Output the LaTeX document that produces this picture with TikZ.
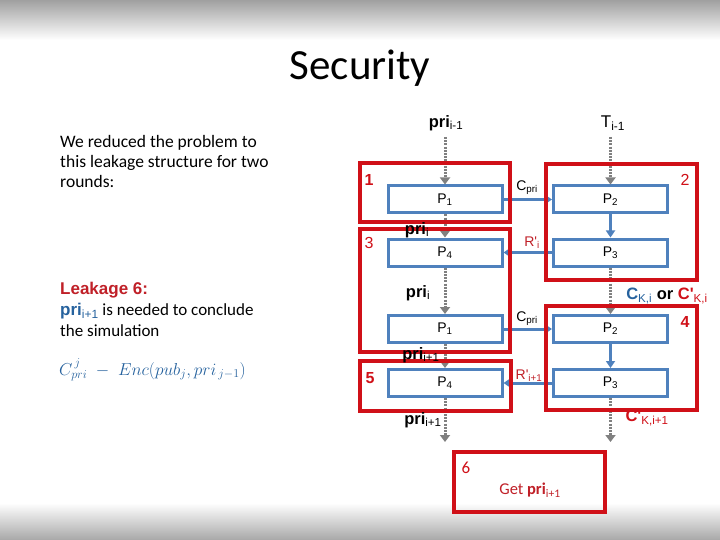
\documentclass[tikz,border=0pt]{standalone}
\usepackage{fontspec}
\setmainfont{Carlito}
\newfontfamily\arialf{Liberation Sans}
\usetikzlibrary{arrows.meta}
\definecolor{boxred}{RGB}{208,16,24}
\definecolor{txtred}{RGB}{192,32,40}
\definecolor{pblue}{RGB}{79,129,189}
\definecolor{tblue}{RGB}{38,98,158}
\definecolor{dgray}{RGB}{128,128,128}
\newcommand{\msub}[1]{\textsubscript{\mdseries #1}}
\tikzset{
  pbox/.style={draw=pblue, line width=3pt, minimum width=114pt, minimum height=27pt, inner sep=0pt, font=\arialf\fontsize{14}{16}\selectfont},
  rbox/.style={draw=boxred, line width=3.5pt, inner sep=0pt},
  barrow/.style={draw=pblue, line width=3pt, -{Triangle[length=7pt,width=9pt]}},
  garrow/.style={draw=dgray, line width=3pt, dash pattern=on 2pt off 1.2pt, -{Triangle[length=7pt,width=10pt]}},
  lbl/.style={font=\arialf\bfseries\fontsize{16.5}{18}\selectfont, inner sep=0pt},
  num/.style={font=\arialf\fontsize{16}{18}\selectfont, text=boxred, inner sep=0pt},
  small/.style={font=\arialf\fontsize{14}{16}\selectfont, inner sep=0pt}
}
\begin{document}
\begin{tikzpicture}[x=1pt,y=-1pt]
\useasboundingbox (0,0) rectangle (720,540);
\fill[white] (0,0) rectangle (720,540);
\shade[top color={rgb,255:red,160;green,160;blue,160}, bottom color=white] (0,0) rectangle (720,40);
\shade[top color=white, bottom color={rgb,255:red,168;green,168;blue,168}] (0,503) rectangle (720,540);

% title
\node[font=\fontsize{43}{48}\selectfont, inner sep=0pt] (title) at (360,68) {Security};

% left text
\node[anchor=north west, align=left, inner sep=0pt, font=\fontsize{17.5}{20.3}\selectfont] (intro) at (60,135)
  {We reduced the problem to\\ this leakage structure for two\\ rounds:};
\node[anchor=north west, align=left, inner sep=0pt, font=\fontsize{17}{21}\selectfont] (leak) at (60,282)
  {{\arialf\bfseries\color{txtred}Leakage 6:}\\
   {\arialf\bfseries\color{tblue}pri\msub{i+1}} is needed to conclude\\ the simulation};
\node[anchor=west, inner sep=0pt, text=tblue, font=\fontsize{18.5}{20}\selectfont] (formula) at (59,370)
  {$C^{\,j}_{pri}\;-\;Enc(pub_{j},pri_{\,j-1})$};

% blue process boxes
\node[pbox] (p1a) at (445,199.5) {P\textsubscript{1}};
\node[pbox] (p2a) at (610.5,199.5) {P\textsubscript{2}};
\node[pbox] (p4a) at (445,252.5) {P\textsubscript{4}};
\node[pbox] (p3a) at (610.5,252.5) {P\textsubscript{3}};
\node[pbox] (p1b) at (445,329) {P\textsubscript{1}};
\node[pbox] (p2b) at (610.5,329) {P\textsubscript{2}};
\node[pbox] (p4b) at (445,383) {P\textsubscript{4}};
\node[pbox] (p3b) at (610.5,383) {P\textsubscript{3}};

% top inputs
\node[lbl] (prim1) at (446,123) {pri\msub{i-1}};
\node[lbl, font=\arialf\fontsize{17}{18}\selectfont] (tim1) at (613,123) {T\msub{i-1}};
\coordinate (prim1b) at (445,137);
\coordinate (tim1b) at (610.5,137);
\coordinate (endL) at (445,442);
\coordinate (endR) at (610.5,442);

% arrows
\draw[garrow] (prim1b) -- (p1a.north);
\draw[garrow] (tim1b) -- (p2a.north);
\draw[garrow] (p1a.south) -- (p4a.north);
\draw[garrow] (p4a.south) -- (p1b.north);
\draw[garrow] (p3a.south) -- (p2b.north);
\draw[garrow] (p1b.south) -- (p4b.north);
\draw[garrow] (p4b.south) -- (endL);
\draw[garrow] (p3b.south) -- (endR);
\draw[barrow] (p1a.east) -- (p2a.west);
\draw[barrow] (p2a.south) -- (p3a.north);
\draw[barrow] (p3a.west) -- (p4a.east);
\draw[barrow] (p1b.east) -- (p2b.west);
\draw[barrow] (p2b.south) -- (p3b.north);
\draw[barrow] (p3b.west) -- (p4b.east);

% red boxes
\node[rbox, minimum width=150pt, minimum height=59pt] (b1) at (435,192.5) {};
\node[rbox, minimum width=151pt, minimum height=116pt] (b2) at (621.5,222) {};
\node[rbox, minimum width=150pt, minimum height=123pt] (b3) at (435,290.5) {};
\node[rbox, minimum width=151pt, minimum height=104pt] (b4) at (621.5,358) {};
\node[rbox, minimum width=151pt, minimum height=50pt] (b5) at (435.5,386) {};
\node[rbox, minimum width=151pt, minimum height=60pt] (b6) at (529.5,482) {};

% box numbers
\node[num, font=\arialf\bfseries\fontsize{16}{18}\selectfont] (n1) at (369,180) {1};
\node[num] (n2) at (685,180) {2};
\node[num] (n3) at (369,243) {3};
\node[num, font=\arialf\bfseries\fontsize{16}{18}\selectfont] (n4) at (685,322) {4};
\node[num, font=\arialf\bfseries\fontsize{16}{18}\selectfont] (n5) at (370,378) {5};
\node[num, font=\fontsize{17}{19}\selectfont] (n6) at (466,468) {6};
\node[inner sep=0pt, text=txtred, font=\fontsize{16.5}{19}\selectfont] (get) at (530,490) {Get {\bfseries pri}\textsubscript{i+1}};

% arrow labels
\node[small] (cpri1) at (527,188) {C\textsubscript{pri}};
\node[small, text=txtred] (ri) at (532,243) {R'\textsubscript{i}};
\node[small] (cpri2) at (527,319) {C\textsubscript{pri}};
\node[small, text=txtred] (ri1) at (529,376) {R'\textsubscript{i+1}};

% flow labels
\node[lbl] (pri1) at (417,230) {pri\msub{i}};
\node[lbl] (pri2) at (418,293) {pri\msub{i}};
\node[lbl] (pri3) at (421,355) {pri\msub{i+1}};
\node[lbl] (pri4) at (423,420) {pri\msub{i+1}};
\node[lbl] (cki) at (667,296) {{\color{tblue}C\msub{K,i}} or {\color{boxred}C'\msub{K,i}}};
\node[lbl, text=boxred] (cki1) at (647,418) {C'\msub{K,i+1}};
\end{tikzpicture}
\end{document}
